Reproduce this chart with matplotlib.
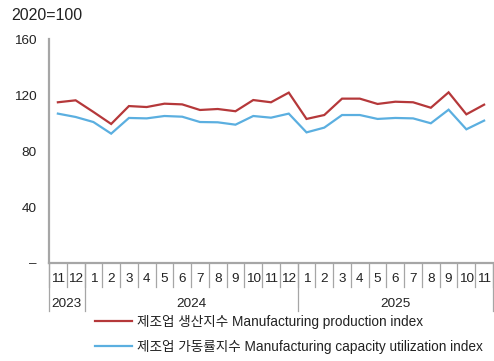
import matplotlib
matplotlib.use("Agg")
import matplotlib.pyplot as plt
from matplotlib.lines import Line2D
import matplotlib.transforms as mtransforms

plt.rcParams['font.family'] = ['Liberation Sans', 'Noto Sans CJK KR', 'DejaVu Sans']

# Monthly index values (2020=100), Nov 2023 - Nov 2025
months = ["11", "12", "1", "2", "3", "4", "5", "6", "7", "8", "9", "10", "11", "12",
          "1", "2", "3", "4", "5", "6", "7", "8", "9", "10", "11"]
years = ["2023", "2024", "2025"]
year_counts = [2, 12, 11]
production = [114.8, 116.2, 107.9, 99.3, 112.1, 111.4, 113.8, 113.3, 109.3, 110.0,
              108.4, 116.4, 114.8, 121.7, 102.9, 105.7, 117.4, 117.4, 113.6, 115.2,
              114.8, 110.9, 121.9, 106.2, 113.1]
utilization = [106.7, 104.3, 100.7, 92.4, 103.6, 103.3, 105.0, 104.5, 100.7, 100.5,
               98.8, 105.0, 103.8, 106.7, 93.3, 96.7, 105.7, 105.7, 102.9, 103.6,
               103.3, 99.8, 109.5, 95.5, 101.7]
series_names = ["제조업 생산지수 Manufacturing production index",
                "제조업 가동률지수 Manufacturing capacity utilization index"]
yticks = [0, 40, 80, 120, 160]
ytick_labels = ["–", "40", "80", "120", "160"]

RED = "#b5383a"
BLUE = "#5bafe0"
GRID = "#a6a6a6"
TXT = "#222222"

W, H = 494, 361
fig = plt.figure(figsize=(W / 100, H / 100), dpi=100)
left_px, right_px, top_px, bottom_px = 49, 493, 39, 263
ax = fig.add_axes([left_px / W, (H - bottom_px) / H,
                   (right_px - left_px) / W, (bottom_px - top_px) / H])

x = list(range(len(months)))
l1, = ax.plot(x, production, color=RED, lw=1.6, solid_joinstyle="miter")
l2, = ax.plot(x, utilization, color=BLUE, lw=1.6, solid_joinstyle="miter")

ax.set_xlim(-0.5, len(months) - 0.5)
ax.set_ylim(0, 160)
ax.set_yticks(yticks)
ax.set_yticklabels(ytick_labels, fontsize=9.7, color=TXT)
ax.tick_params(axis="y", length=0, pad=9)
ax.set_xticks([])

for s in ["top", "right"]:
    ax.spines[s].set_visible(False)
for s in ["left", "bottom"]:
    ax.spines[s].set_color(GRID)
    ax.spines[s].set_linewidth(1.6)

# Category axis: month labels, month separators, year labels and year separators
axh = bottom_px - top_px
trans = mtransforms.blended_transform_factory(ax.transData, ax.transAxes)
month_label_y = -16 / axh
month_sep_y = -24 / axh
year_label_y = -41 / axh
year_sep_y = -48 / axh

for i, m in enumerate(months):
    ax.text(i, month_label_y, m, transform=trans, ha="center", va="center",
            fontsize=9.7, color=TXT)
for i in range(len(months) + 1):
    ax.add_line(Line2D([i - 0.5, i - 0.5], [0, month_sep_y], transform=trans,
                       color=GRID, lw=0.9, clip_on=False))

start = 0
bounds = [0]
for yr, n in zip(years, year_counts):
    ax.text(start + (n - 1) / 2, year_label_y, yr, transform=trans, ha="center",
            va="center", fontsize=9.7, color=TXT)
    start += n
    bounds.append(start)
for b in bounds:
    ax.add_line(Line2D([b - 0.5, b - 0.5], [0, year_sep_y], transform=trans,
                       color=GRID, lw=0.9, clip_on=False))

fig.text(11 / W, 1 - 15 / H, "2020=100", fontsize=11.5, ha="left", va="center",
         color=TXT)

leg = fig.legend([l1, l2], series_names, loc="upper left",
                 bbox_to_anchor=(95 / W, 1 - 315 / H), bbox_transform=fig.transFigure,
                 frameon=False, fontsize=9.8, handlelength=2.7, handletextpad=0.4,
                 labelspacing=0.8, borderpad=0, borderaxespad=0)
for t in leg.get_texts():
    t.set_color(TXT)
for h in leg.legend_handles:
    h.set_linewidth(1.6)

fig.savefig("out.png", dpi=100)
